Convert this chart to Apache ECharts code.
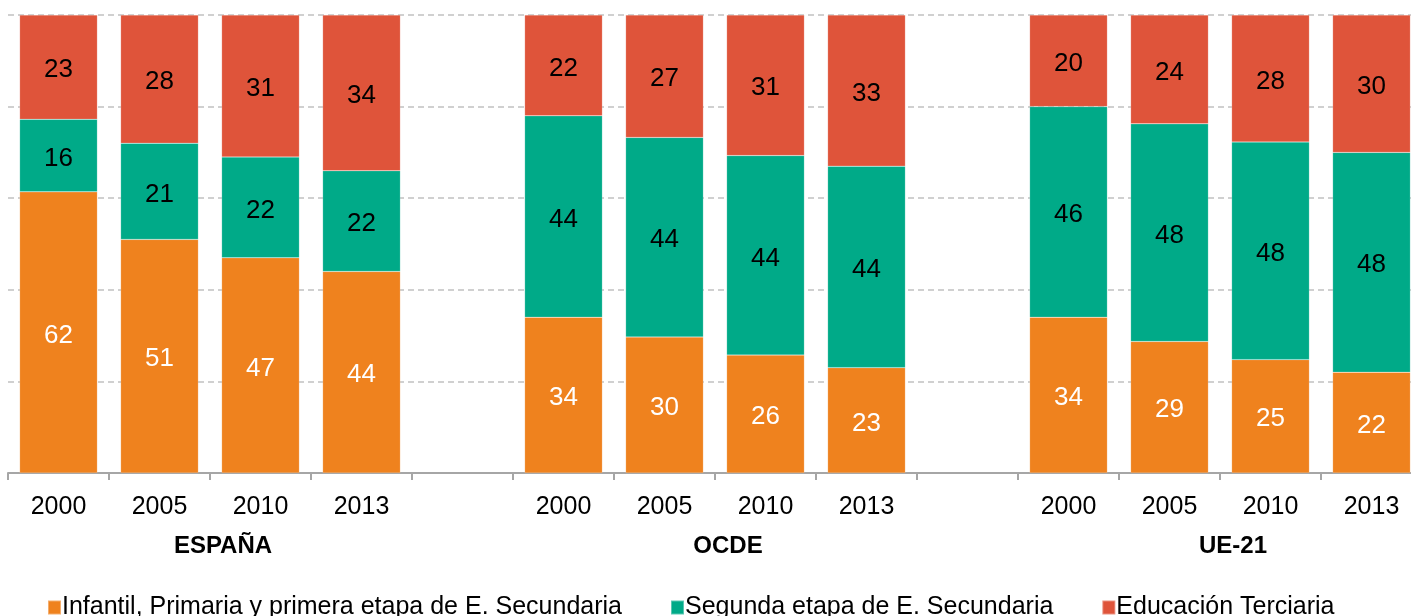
<!DOCTYPE html>
<html>
<head>
<meta charset="utf-8">
<script src="https://cdn.jsdelivr.net/npm/echarts@6/dist/echarts.min.js"></script>
<style>html,body{margin:0;padding:0;background:#fff}#c{width:1411px;height:616px}</style>
</head>
<body>
<div id="c"></div>
<script>
const categories = ['2000','2005','2010','2013','','2000','2005','2010','2013','','2000','2005','2010','2013'];
const groupLabels = ['ESPAÑA','OCDE','UE-21'];
const seriesNames = ['Infantil, Primaria y primera etapa de E. Secundaria','Segunda etapa de E. Secundaria','Educación Terciaria'];
const infantil   = [62,51,47,44,null,34,30,26,23,null,34,29,25,22];
const segunda    = [16,21,22,22,null,44,44,44,44,null,46,48,48,48];
const terciaria  = [23,28,31,34,null,22,27,31,33,null,20,24,28,30];

const colors = ['#EF821E','#00AA88','#DF543A'];
const labelColors = ['#ffffff','#000000','#000000'];
const raw = [infantil, segunda, terciaria];
const totals = categories.map((c,i)=> raw.reduce((s,a)=> s + (a[i]||0), 0));

const FONT = 'Liberation Sans, Arial, sans-serif';

const series = raw.map((arr, k) => ({
  name: seriesNames[k],
  type: 'bar',
  stack: 'all',
  barCategoryGap: '23%',
  itemStyle: { color: colors[k], borderColor: 'rgba(255,255,255,0.35)', borderWidth: 0.5 },
  label: {
    show: true, position: 'inside', color: labelColors[k],
    fontFamily: FONT, fontSize: 26, offset: [0, 3],
    formatter: p => p.data.raw
  },
  data: arr.map((v,i) => v == null ? null : { value: v / totals[i] * 100, raw: v })
}));

const chart = echarts.init(document.getElementById('c'));
chart.setOption({
  animation: false,
  textStyle: { fontFamily: FONT },
  grid: { left: 8, top: 15, width: 1414, height: 458, outerBoundsMode: 'none', containLabel: false },
  legend: {
    left: 42, top: 590,
    itemWidth: 13, itemHeight: 14, itemGap: 48,
    icon: 'rect',
    textStyle: { fontFamily: FONT, fontSize: 25, color: '#000', padding: [0,0,0,-4] },
    data: seriesNames
  },
  xAxis: [{
    type: 'category',
    data: categories,
    axisLine: { lineStyle: { color: '#A6A6A6', width: 2 } },
    axisTick: { show: true, length: 7, interval: 0, lineStyle: { color: '#A6A6A6', width: 2 } },
    axisLabel: { interval: 0, color: '#000', fontSize: 25, margin: 22, fontFamily: FONT }
  }, {
    type: 'value', position: 'bottom', min: 0, max: 14, interval: 1,
    axisLine: { show: false }, axisTick: { show: false }, splitLine: { show: false },
    axisLabel: {
      margin: 61, color: '#000', fontSize: 24, fontWeight: 'bold', fontFamily: FONT,
      padding: [0,0,0,26],
      formatter: v => v === 2 ? groupLabels[0] : v === 7 ? groupLabels[1] : v === 12 ? groupLabels[2] : ''
    }
  }],
  yAxis: {
    type: 'value', min: 0, max: 100, interval: 20,
    axisLine: { show: false }, axisTick: { show: false }, axisLabel: { show: false },
    splitLine: { lineStyle: { color: '#D0D0D0', width: 2, type: [6,4] } }
  },
  series: series
});
</script>
</body>
</html>
